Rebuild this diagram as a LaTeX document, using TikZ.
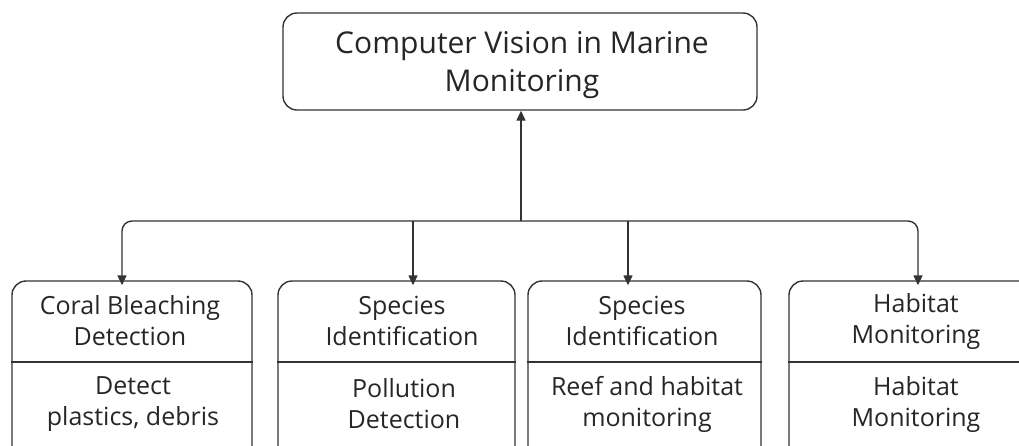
\documentclass[tikz,border=0pt]{standalone}
\usepackage{fontspec}
\setmainfont{Open Sans}
\usetikzlibrary{arrows.meta}
\begin{document}
\begin{tikzpicture}[x=1pt,y=-1pt,
  line/.style={draw=black!80, line width=1.4pt},
  arr/.style={line, -{Triangle[length=10pt,width=9pt]}},
  card/.style={line, rounded corners=14pt},
  lbl/.style={font=\fontsize{25}{31}\selectfont, align=center, text=black!85}]
\useasboundingbox (0,0) rectangle (1019,445);
\clip (0,0) rectangle (1019,445);

% root box
\node[card, minimum width=474pt, minimum height=97pt, inner sep=0pt] (root) at (520,61.5) {};
\node[lbl, font=\fontsize{30}{38}\selectfont] (roott) at (522,65) {Computer Vision in Marine\\Monitoring};

% branch cards (bottom edges run past the frame)
\node[card, minimum width=240pt, minimum height=180pt, inner sep=0pt] (c1) at (132,371) {};
\node[card, minimum width=237pt, minimum height=180pt, inner sep=0pt] (c2) at (396.5,371) {};
\node[card, minimum width=233pt, minimum height=180pt, inner sep=0pt] (c3) at (644.5,371) {};
\node[card, minimum width=250pt, minimum height=180pt, inner sep=0pt] (c4) at (914,371) {};

% dividers
\foreach \c in {c1,c2,c3,c4}
  \draw[line] (\c.west |- 0,362) -- (\c.east |- 0,362);

% titles
\node[lbl] (t1) at (130,321) {Coral Bleaching\\Detection};
\node[lbl] (t2) at (402,321) {Species\\Identification};
\node[lbl] (t3) at (642,321) {Species\\Identification};
\node[lbl] (t4) at (916,321) {Habitat\\Monitoring};

% descriptions
\node[lbl] (d1) at (133,404) {Detect\\plastics, debris};
\node[lbl] (d2) at (404,404) {Pollution\\Detection};
\node[lbl] (d3) at (647,404) {Reef and habitat\\monitoring};
\node[lbl] (d4) at (916,404) {Habitat\\Monitoring};

% connectors
\coordinate (hub) at (521,221);
\draw[arr] (hub) -- (root.south -| hub);
\draw[arr, rounded corners=10pt] (hub) -- (122,221) -- ([yshift=-5pt]c1.north -| 122,0);
\draw[arr, rounded corners=10pt] (hub) -- (918,221) -- ([yshift=-5pt]c4.north -| 918,0);
\draw[arr] (413,221) -- ([yshift=-5pt]c2.north -| 413,0);
\draw[arr] (628,221) -- ([yshift=-5pt]c3.north -| 628,0);
\end{tikzpicture}
\end{document}
